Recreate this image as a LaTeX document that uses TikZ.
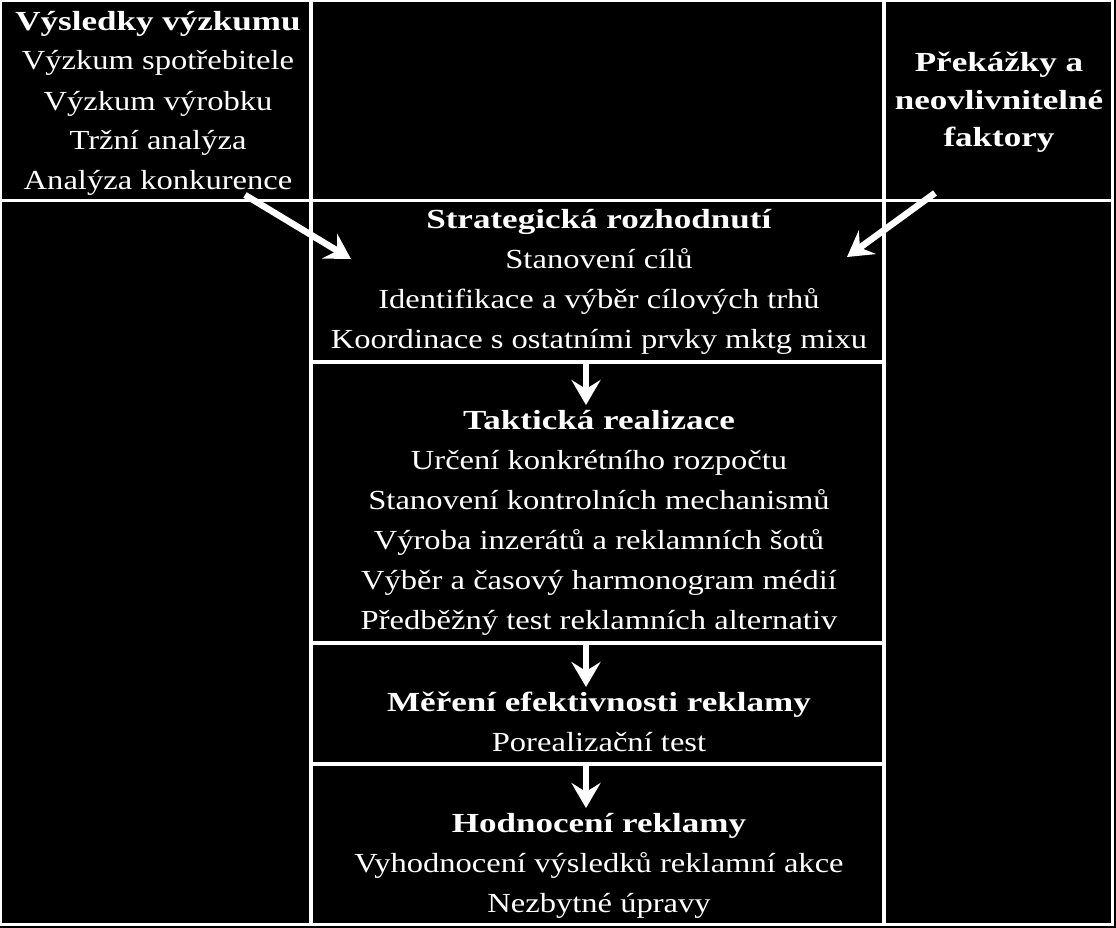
\documentclass[tikz,border=0pt]{standalone}
\usepackage{fontspec}
\setmainfont[UprightFeatures={FakeStretch=1.18},BoldFeatures={FakeStretch=1.27}]{Liberation Serif}
\usetikzlibrary{arrows.meta}

\begin{document}
\begin{tikzpicture}[x=1pt, y=-1pt,
  every node/.style={text=white, align=center, inner sep=0pt, anchor=base, font=\fontsize{27.6}{40}\selectfont},
  cellline/.style={draw=white, line width=3.5pt},
  flow/.style={draw=white, line width=6.5pt, -{Stealth[length=25pt,width=29pt,inset=9pt]}}]
\fill[black] (0,0) rectangle (1116,928);
\useasboundingbox (0,0) rectangle (1116,928);

\draw[cellline] (0,0) rectangle (1112.5,924.5);
\draw[cellline] (311,0) -- (311,924.5);
\draw[cellline] (884,0) -- (884,924.5);
\draw[cellline] (0,200.5) -- (1112.5,200.5);
\draw[cellline] (311,362) -- (884,362);
\draw[cellline] (311,643) -- (884,643);
\draw[cellline] (311,764) -- (884,764);

% texts, anchored at the baseline of their last line
\node (results) at (158,190) {\textbf{Výsledky výzkumu}\\Výzkum spotřebitele\\Výzkum výrobku\\Tržní analýza\\Analýza konkurence};
\node[font=\fontsize{27.6}{37.5}\selectfont\bfseries] (obstacles) at (999,146.7) {Překážky a\\neovlivnitelné\\faktory};
\node (strategy) at (599,348.5) {\textbf{Strategická rozhodnutí}\\Stanovení cílů\\Identifikace a výběr cílových trhů\\Koordinace s ostatními prvky mktg mixu};
\node (tactics) at (599,629) {\textbf{Taktická realizace}\\Určení konkrétního rozpočtu\\Stanovení kontrolních mechanismů\\Výroba inzerátů a reklamních šotů\\Výběr a časový harmonogram médií\\Předběžný test reklamních alternativ};
\node (measuring) at (599,751.7) {\textbf{Měření efektivnosti reklamy}\\Porealizační test};
\node (evaluation) at (599,912.7) {\textbf{Hodnocení reklamy}\\Vyhodnocení výsledků reklamní akce\\Nezbytné úpravy};

\coordinate (resultsOut) at (245,195);
\coordinate (strategyInL) at (351,259);
\coordinate (obstaclesOut) at (935,193);
\coordinate (strategyInR) at (847,257);
\coordinate (s1) at (586,362);
\coordinate (t1) at (586,405);
\coordinate (s2) at (586,643);
\coordinate (t2) at (586,687);
\coordinate (s3) at (586,764);
\coordinate (t3) at (586,808);

\draw[flow] (resultsOut) -- (strategyInL);
\draw[flow] (obstaclesOut) -- (strategyInR);
\draw[flow] (s1) -- (t1);
\draw[flow] (s2) -- (t2);
\draw[flow] (s3) -- (t3);
\end{tikzpicture}
\end{document}
